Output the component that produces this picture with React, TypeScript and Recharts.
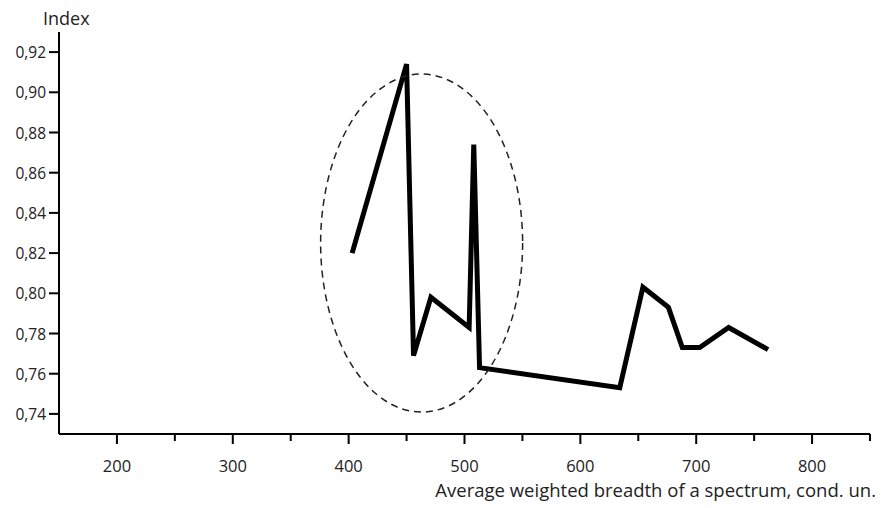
import { LineChart, Line, XAxis, YAxis, ReferenceDot } from 'recharts';

const breadth = [403, 450, 456, 471, 504, 508, 513, 634, 654, 676, 688, 703, 728, 762];
const index = [0.82, 0.914, 0.769, 0.798, 0.783, 0.874, 0.763, 0.753, 0.803, 0.793, 0.773, 0.773, 0.783, 0.772];
const xTicks = [200, 250, 300, 350, 400, 450, 500, 550, 600, 650, 700, 750, 800, 850];
const yTicks = [0.74, 0.76, 0.78, 0.8, 0.82, 0.84, 0.86, 0.88, 0.9, 0.92];

const data = breadth.map((b, i) => ({ x: b, y: index[i] }));

const font = '"Open Sans", sans-serif';

const XTick = (props: any) => {
  const { x, y, payload } = props;
  const major = payload.value % 100 === 0;
  return (
    <g>
      <line x1={x} x2={x} y1={y} y2={y + (major ? 10 : 7)} stroke="#000" strokeWidth={2} />
      {major && (
        <text x={x} y={y + 38} textAnchor="middle" fontSize={16.5} fontFamily={font} fill="#222">
          {payload.value}
        </text>
      )}
    </g>
  );
};

const YTick = (props: any) => {
  const { x, y, payload } = props;
  return (
    <g>
      <line x1={x - 10} x2={x} y1={y} y2={y} stroke="#000" strokeWidth={2} />
      <text x={x - 13} y={y + 6} textAnchor="end" fontSize={15.5} fontFamily={font} fill="#222">
        {payload.value.toFixed(2).replace('.', ',')}
      </text>
    </g>
  );
};

const App = () => {
  return (
    <div style={{ position: 'absolute', left: 0, top: 0, width: 882, height: 508, background: '#fff' }}>
      <LineChart width={882} height={508} data={data} margin={{ top: 32, right: 12, bottom: 44, left: 0 }}>
        <XAxis
          dataKey="x"
          type="number"
          domain={[150, 850]}
          ticks={xTicks}
          tickSize={0}
          tickMargin={0}
          height={30}
          tick={<XTick />}
          axisLine={{ stroke: '#000', strokeWidth: 2 }}
          tickLine={false}
        />
        <YAxis
          dataKey="y"
          type="number"
          domain={[0.73, 0.93]}
          ticks={yTicks}
          tickSize={0}
          tickMargin={0}
          width={59}
          tick={<YTick />}
          axisLine={{ stroke: '#000', strokeWidth: 2 }}
          tickLine={false}
        />
        <ReferenceDot
          x={463}
          y={0.825}
          shape={(p: any) => (
            <ellipse cx={p.cx} cy={p.cy} rx={101} ry={169} fill="none" stroke="#222" strokeWidth={1.5} strokeDasharray="7 5" />
          )}
        />
        <Line type="linear" dataKey="y" stroke="#000" strokeWidth={5} dot={false} isAnimationActive={false} strokeLinejoin="miter" />
      </LineChart>
      <div style={{ position: 'absolute', left: 43, top: 6, fontFamily: font, fontSize: 18, lineHeight: 'normal', color: '#222' }}>Index</div>
      <div style={{ position: 'absolute', right: 6, top: 477, fontFamily: font, fontSize: 18.5, lineHeight: 'normal', color: '#222', whiteSpace: 'nowrap' }}>
        Average weighted breadth of a spectrum, cond. un.
      </div>
    </div>
  );
};

export default App;
